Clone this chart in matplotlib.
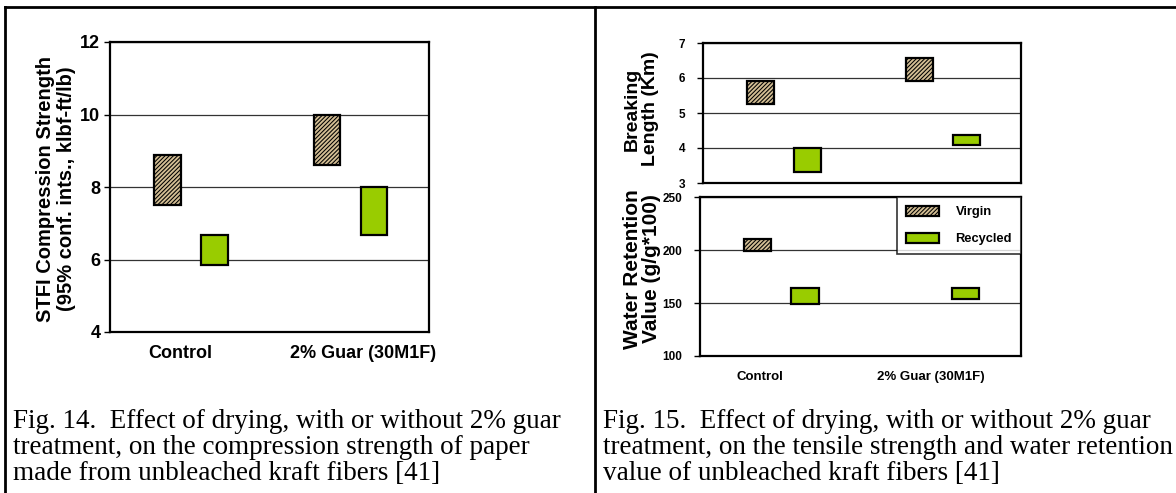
import matplotlib
matplotlib.use('Agg')
import matplotlib.pyplot as plt
from matplotlib.patches import Patch, Rectangle
from matplotlib.lines import Line2D
import numpy as np

plt.rcParams['font.family'] = 'Liberation Sans'
plt.rcParams['font.weight'] = 'bold'
plt.rcParams['hatch.linewidth'] = 0.75

groups = ['Control', '2% Guar (30M1F)']

# Fig. 14: STFI compression strength, 95% conf. intervals (low / high)
stfi_virgin_lo = [7.49, 8.60]
stfi_virgin_hi = [8.87, 9.98]
stfi_recycled_lo = [5.84, 6.67]
stfi_recycled_hi = [6.67, 8.00]

# Fig. 15 top: breaking length (km)
bl_virgin_lo = [5.25, 5.91]
bl_virgin_hi = [5.92, 6.56]
bl_recycled_lo = [3.31, 4.09]
bl_recycled_hi = [3.99, 4.37]

# Fig. 15 bottom: water retention value (guar virgin hidden behind legend)
wrv_virgin_lo = [199, np.nan]
wrv_virgin_hi = [210, np.nan]
wrv_recycled_lo = [149, 154]
wrv_recycled_hi = [164, 164]

TAN = '#D3BE94'
GREEN = '#99CC00'
W, H = 1176, 493


def rect(l, r, t, b):
    return [l / W, 1 - b / H, (r - l) / W, (b - t) / H]


def boxes(ax, vlo, vhi, rlo, rhi, width=0.167):
    x = np.array([0.5, 1.5])
    for off, lo, hi, kw in [(-0.14, vlo, vhi, dict(color=TAN, hatch='////////')),
                            (0.155, rlo, rhi, dict(color=GREEN))]:
        lo = np.array(lo, float)
        hi = np.array(hi, float)
        ok = np.isfinite(lo)
        ax.bar(x[ok] + off, hi[ok] - lo[ok], bottom=lo[ok], width=width,
               edgecolor='black', linewidth=1.6, zorder=3, **kw)
    ax.set_xlim(0, 2)
    ax.yaxis.grid(True, color='#333333', linewidth=0.9)
    ax.set_axisbelow(True)
    for s in ax.spines.values():
        s.set_linewidth(1.6)


fig = plt.figure(figsize=(W / 100, H / 100), dpi=100)

# left chart
ax1 = fig.add_axes(rect(110, 429, 42, 332))
boxes(ax1, stfi_virgin_lo, stfi_virgin_hi, stfi_recycled_lo, stfi_recycled_hi)
ax1.set_ylim(4, 12)
ax1.set_yticks([4, 6, 8, 10, 12])
ax1.tick_params(axis='y', labelsize=13, length=4, width=1, pad=3)
ax1.set_xticks([0.44, 1.586])
ax1.set_xticklabels(groups, fontsize=13)
ax1.tick_params(axis='x', length=0, pad=9)
fig.text(56 / W, 1 - 189 / H, 'STFI Compression Strength\n(95% conf. ints., klbf-ft/lb)',
         rotation=90, ha='center', va='center', fontsize=14.5, linespacing=1.1,
         multialignment='center')

# right top chart
ax2 = fig.add_axes(rect(703, 1021, 43, 183))
boxes(ax2, bl_virgin_lo, bl_virgin_hi, bl_recycled_lo, bl_recycled_hi, width=0.17)
ax2.set_ylim(3, 7)
ax2.set_yticks([3, 4, 5, 6, 7])
ax2.set_xticks([])
ax2.tick_params(axis='y', labelsize=8.5, length=4, width=1, pad=9)
fig.text(641 / W, 1 - 109 / H, 'Breaking\nLength (Km)', rotation=90, ha='center',
         va='center', fontsize=14, linespacing=1.1, multialignment='center')

# right bottom chart
ax3 = fig.add_axes(rect(700, 1021, 197, 356))
boxes(ax3, wrv_virgin_lo, wrv_virgin_hi, wrv_recycled_lo, wrv_recycled_hi, width=0.17)
ax3.set_ylim(100, 250)
ax3.set_yticks([100, 150, 200, 250])
ax3.tick_params(axis='y', labelsize=8.5, length=4, width=1, pad=9)
ax3.set_xticks([0.374, 1.44])
ax3.set_xticklabels(groups, fontsize=9.5)
ax3.tick_params(axis='x', length=0, pad=11)
wl = fig.text(642 / W, 1 - 269 / H, 'Water Retention\nValue (g/g*100)', rotation=90,
              ha='center', va='center', fontsize=15, linespacing=1.05,
              multialignment='center')
clip = Rectangle((0, 0), 1, 1 - 190 / H, transform=fig.transFigure, visible=False)
fig.add_artist(clip)
wl.set_clip_path(clip)
wl.set_clip_on(True)

handles = [Patch(facecolor=TAN, edgecolor='black', hatch='////////', linewidth=1.6),
           Patch(facecolor=GREEN, edgecolor='black', linewidth=1.6)]
leg = ax3.legend(handles, ['Virgin', 'Recycled'], loc='upper right',
                 bbox_to_anchor=(1, 1), borderaxespad=0, fancybox=False,
                 fontsize=9.3, handlelength=2.5, handleheight=0.8,
                 handletextpad=1.3, labelspacing=1.1, borderpad=0.7)
leg.get_frame().set_edgecolor('black')
leg.get_frame().set_linewidth(1.2)
leg.set_zorder(5)

# captions
cap14 = ['Fig. 14.  Effect of drying, with or without 2% guar',
         'treatment, on the compression strength of paper',
         'made from unbleached kraft fibers [41]']
cap15 = ['Fig. 15.  Effect of drying, with or without 2% guar',
         'treatment, on the tensile strength and water retention',
         'value of unbleached kraft fibers [41]']
for i, (a, b) in enumerate(zip(cap14, cap15)):
    yb = 1 - (428 + 26 * i) / H
    fig.text(13 / W, yb, a, va='baseline', family='Liberation Serif',
             fontweight='normal', fontsize=19.5)
    fig.text(603 / W, yb, b, va='baseline', family='Liberation Serif',
             fontweight='normal', fontsize=19.5)

# page table borders
for xs, ys in [([5 / W, 5 / W], [0, 1 - 7 / H]),
               ([5 / W, 1], [1 - 7 / H, 1 - 7 / H]),
               ([595 / W, 595 / W], [0, 1 - 7 / H])]:
    fig.add_artist(Line2D(xs, ys, transform=fig.transFigure, color='black', linewidth=2))

fig.savefig('out.png', dpi=100)
